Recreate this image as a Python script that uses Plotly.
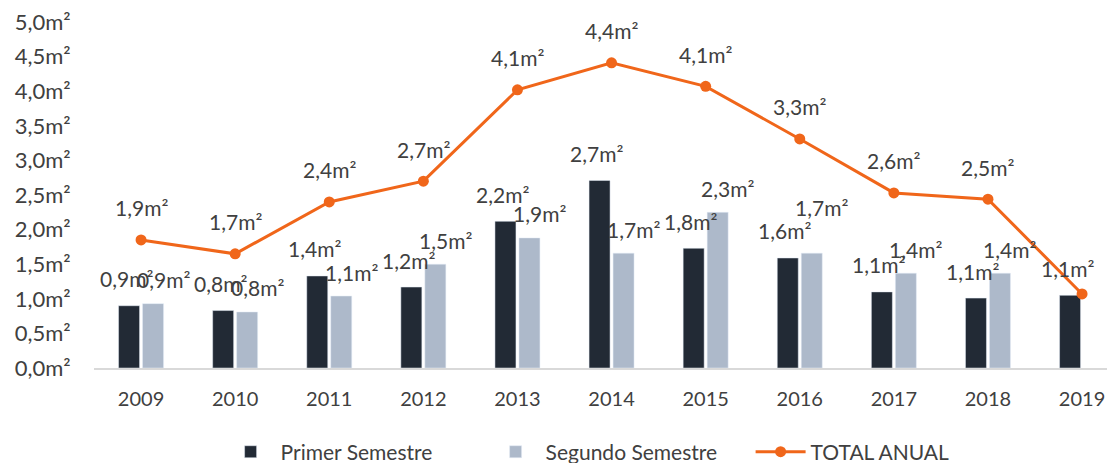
import plotly.graph_objects as go

years = ["2009", "2010", "2011", "2012", "2013", "2014", "2015", "2016", "2017", "2018", "2019"]
primer = [0.90, 0.83, 1.33, 1.17, 2.12, 2.71, 1.73, 1.59, 1.10, 1.01, 1.05]
segundo = [0.93, 0.81, 1.04, 1.50, 1.88, 1.66, 2.25, 1.66, 1.37, 1.37, None]
total = [1.85, 1.65, 2.40, 2.70, 4.02, 4.41, 4.07, 3.31, 2.53, 2.44, 1.07]
# data labels exactly as printed on the chart
primer_labels = ["0,9m²", "0,8m²", "1,4m²", "1,2m²", "2,2m²", "2,7m²", "1,8m²", "1,6m²", "1,1m²", "1,1m²", "1,1m²"]
segundo_labels = ["0,9m²", "0,8m²", "1,1m²", "1,5m²", "1,9m²", "1,7m²", "2,3m²", "1,7m²", "1,4m²", "1,4m²", None]
total_labels = ["1,9m²", "1,7m²", "2,4m²", "2,7m²", "4,1m²", "4,4m²", "4,1m²", "3,3m²", "2,6m²", "2,5m²", "1,1m²"]
y_ticks = [0.0, 0.5, 1.0, 1.5, 2.0, 2.5, 3.0, 3.5, 4.0, 4.5, 5.0]
y_ticktext = ["0,0m²", "0,5m²", "1,0m²", "1,5m²", "2,0m²", "2,5m²", "3,0m²", "3,5m²", "4,0m²", "4,5m²", "5,0m²"]

FONT = "Lato"
TXT = "#404040"
C_PRIMER = "#222A35"
C_SEGUNDO = "#ADB9CA"
C_TOTAL = "#F0661A"
# extra upward nudge (px) for a label that sits on its neighbour in the original layout
SEGUNDO_NUDGE = {"2016": 22}

fig = go.Figure()
fig.add_trace(go.Bar(name="Primer Semestre", x=years, y=primer,
                     marker=dict(color=C_PRIMER), hoverinfo="skip"))
fig.add_trace(go.Bar(name="Segundo Semestre", x=years, y=segundo,
                     marker=dict(color=C_SEGUNDO), hoverinfo="skip"))
fig.add_trace(go.Scatter(name="TOTAL ANUAL", x=years, y=total, mode="lines+markers",
                         line=dict(color=C_TOTAL, width=3),
                         marker=dict(color=C_TOTAL, size=11), hoverinfo="skip"))

label_font = dict(family=FONT, size=21, color=TXT)
# category axis: annotation x given as category index
for i, (v, t) in enumerate(zip(primer, primer_labels)):
    fig.add_annotation(x=i, y=v, xref="x", yref="y", text=t, showarrow=False,
                       xshift=-15, yshift=27, font=label_font)
for i, (v, t) in enumerate(zip(segundo, segundo_labels)):
    if v is None:
        continue
    fig.add_annotation(x=i, y=v, xref="x", yref="y", text=t, showarrow=False,
                       xshift=22, yshift=24 + SEGUNDO_NUDGE.get(years[i], 0), font=label_font)
for i, (v, t) in enumerate(zip(total, total_labels)):
    # last total label coincides with the primer bar label in the original
    if segundo[i] is None:
        continue
    fig.add_annotation(x=i, y=v, xref="x", yref="y", text=t, showarrow=False,
                       yshift=32, font=label_font)

# page body has an 8px margin: figure is drawn 8px right/down of the window corner
fig.update_layout(
    width=1107, height=455, autosize=False,
    margin=dict(l=86, r=0, t=14, b=95, autoexpand=False),
    paper_bgcolor="white", plot_bgcolor="white",
    barmode="group", bargap=0.49, bargroupgap=0.125,
    font=dict(family=FONT, size=20, color=TXT),
    showlegend=True,
    legend=dict(orientation="h", x=0.124, xanchor="left", y=-0.243, yanchor="middle",
                font=dict(family=FONT, size=21, color=TXT), itemwidth=50,
                entrywidth=200),
)
fig.update_xaxes(type="category", range=[-0.5, 10.35], showgrid=False, automargin=False,
                 showline=True, linecolor="#D9D9D9", linewidth=2,
                 ticks="outside", ticklen=12, tickcolor="rgba(0,0,0,0)",
                 tickfont=dict(family=FONT, size=20, color=TXT))
fig.update_yaxes(range=[0, 5.0], tickvals=y_ticks, ticktext=y_ticktext,
                 showgrid=False, zeroline=False, showline=False, automargin=False,
                 ticks="outside", ticklen=18, tickcolor="rgba(0,0,0,0)",
                 ticklabeloverflow="allow",
                 tickfont=dict(family=FONT, size=22, color=TXT))

fig.write_html("out.html")
